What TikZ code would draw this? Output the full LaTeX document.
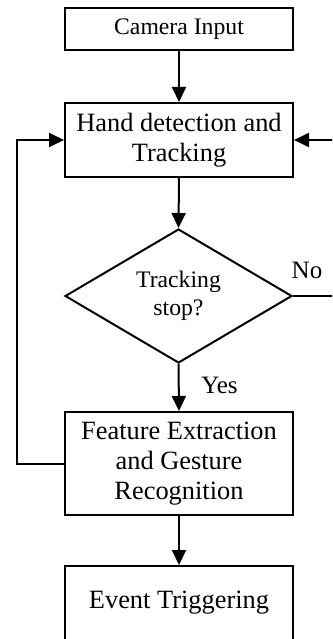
\documentclass[tikz,border=0pt]{standalone}
\usepackage{fontspec}
\setmainfont{Liberation Serif}
\usetikzlibrary{arrows.meta,shapes.geometric}
\begin{document}
\begin{tikzpicture}[x=1pt,y=-1pt,
  line width=2pt,
  big/.style={font=\fontsize{26.4}{30}\selectfont},
  small/.style={font=\fontsize{23.7}{28}\selectfont},
  lab/.style={font=\fontsize{25}{28}\selectfont, inner sep=0pt},
  procbox/.style={draw, rectangle, minimum width=228pt, inner sep=0pt, align=center},
  decbox/.style={draw, diamond, minimum width=227pt, minimum height=134pt, inner sep=0pt, align=center, aspect=1.69},
  arr/.style={-{Triangle[length=15pt,width=14pt]}}
]
\useasboundingbox (0,0) rectangle (332,639);
\clip (0,0) rectangle (332,639);
\node[procbox, small, minimum height=42pt] (cam) at (179,29) {Camera Input};
\node[procbox, big, minimum height=74pt] (hand) at (179,140) {Hand detection and\\Tracking};
\node[decbox, small] (dec) at (178.5,296) {Tracking\\stop?};
\node[procbox, big, minimum height=103pt] (feat) at (179,463.5) {Feature Extraction\\and Gesture\\Recognition};
\node[procbox, big, minimum height=140pt, text depth=0pt] (ev) at (179,636) {};
\node[big] (evt) at (179,603) {Event Triggering};
\coordinate (lc) at (17,463.5);
\coordinate (rc) at (345,296);
\draw[arr] (cam.south) -- (hand.north);
\draw[arr] (hand.south) -- (dec.north);
\draw[arr] (dec.south) -- (feat.north);
\draw[arr] (feat.south) -- (ev.north);
\draw[arr] (feat.west) -- (lc) |- (hand.west);
\draw[arr] (dec.east) -- (rc) |- (hand.east);
\node[lab] (no) at (307,270) {No};
\node[lab] (yes) at (219.5,385) {Yes};
\end{tikzpicture}
\end{document}
